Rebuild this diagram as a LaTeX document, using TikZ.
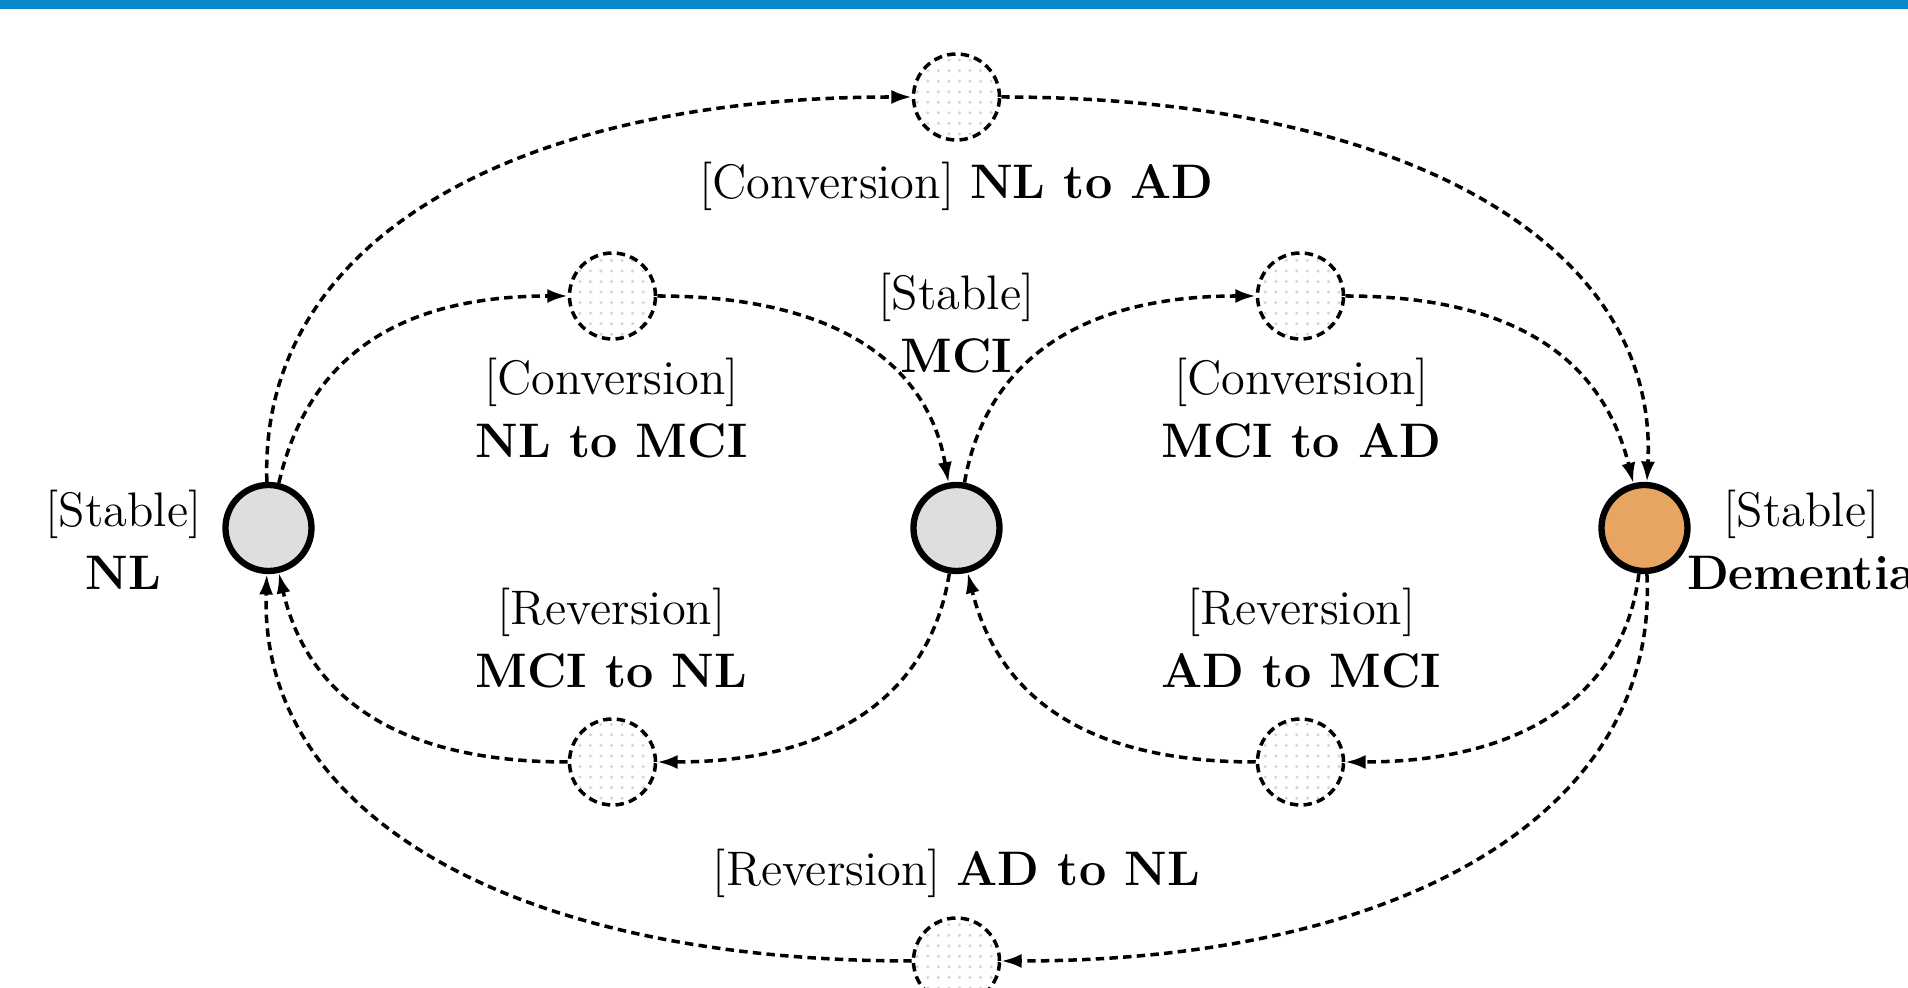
\documentclass[tikz,border=0pt]{standalone}
\usepackage{fontspec}
\usetikzlibrary{arrows.meta, positioning, patterns}
\definecolor{nlgray}{RGB}{222,222,222}
\definecolor{adorange}{RGB}{232,165,98}
\definecolor{barblue}{RGB}{10,136,204}

\begin{document}
\begin{tikzpicture}[
  state/.style={circle, draw, line width=1.8pt, minimum size=0.86cm, inner sep=0pt},
  trans/.style={circle, draw, line width=1pt, dash pattern=on 2.4pt off 1.5pt, minimum size=0.86cm, inner sep=0pt, pattern=dots, pattern color=black!16},
  lbl/.style={align=center, inner sep=0pt, font=\fontsize{13.8}{18}\selectfont},
  flow/.style={line width=1pt, dash pattern=on 2.4pt off 1.5pt, -{Latex[length=5.8pt,width=4pt]}}
]
  \useasboundingbox (-9.565,-4.60) rectangle (9.515,5.28);
  \fill[barblue] (-9.565,5.19) rectangle (9.515,5.28);

  % states
  \node[state, fill=nlgray] (nl) at (-6.88, 0) {};
  \node[state, fill=nlgray] (mci) at (0, 0) {};
  \node[state, fill=adorange] (ad) at (6.88, 0) {};

  % transitions
  \node[trans] (tNLAD) at (0, 4.31) {};
  \node[trans] (tNLMCI) at (-3.44, 2.32) {};
  \node[trans] (tMCIAD) at (3.44, 2.32) {};
  \node[trans] (tMCINL) at (-3.44, -2.34) {};
  \node[trans] (tADMCI) at (3.44, -2.34) {};
  \node[trans] (tADNL) at (0, -4.33) {};

  % labels (base = last line)
  \node[lbl, anchor=base] (lNL) at (-8.33, -0.62) {[Stable]\\\textbf{NL}};
  \node[lbl, anchor=base] (lMCI) at (0, 1.55) {[Stable]\\\textbf{MCI}};
  \node[lbl, anchor=base] (lAD) at (8.45, -0.62) {[Stable]\\\textbf{Dementia}};
  \node[lbl, anchor=base] (lNLAD) at (0, 3.29) {[Conversion] \textbf{NL to AD}};
  \node[lbl, anchor=base] (lNLMCI) at (-3.45, 0.70) {[Conversion]\\\textbf{NL to MCI}};
  \node[lbl, anchor=base] (lMCIAD) at (3.45, 0.70) {[Conversion]\\\textbf{MCI to AD}};
  \node[lbl, anchor=base] (lMCINL) at (-3.45, -1.60) {[Reversion]\\\textbf{MCI to NL}};
  \node[lbl, anchor=base] (lADMCI) at (3.45, -1.60) {[Reversion]\\\textbf{AD to MCI}};
  \node[lbl, anchor=base] (lADNL) at (0, -3.58) {[Reversion] \textbf{AD to NL}};

  % conversions
  \draw[flow] (nl) to[out=92, in=180, out distance=2.4cm, in distance=4cm] (tNLAD);
  \draw[flow] (tNLAD) to[out=0, in=87, out distance=4cm, in distance=2.4cm] (ad);
  \draw[flow] (nl) to[out=77, in=180, out distance=1.2cm, in distance=1.8cm] (tNLMCI);
  \draw[flow] (tNLMCI) to[out=0, in=100, out distance=1.8cm, in distance=1.2cm] (mci);
  \draw[flow] (mci) to[out=80, in=180, out distance=1.2cm, in distance=1.8cm] (tMCIAD);
  \draw[flow] (tMCIAD) to[out=0, in=104, out distance=1.8cm, in distance=1.2cm] (ad);

  % reversions
  \draw[flow] (ad) to[out=-97, in=0, out distance=1.2cm, in distance=1.8cm] (tADMCI);
  \draw[flow] (tADMCI) to[out=180, in=-76, out distance=1.8cm, in distance=1.2cm] (mci);
  \draw[flow] (mci) to[out=-99, in=0, out distance=1.2cm, in distance=1.8cm] (tMCINL);
  \draw[flow] (tMCINL) to[out=180, in=-77, out distance=1.8cm, in distance=1.2cm] (nl);
  \draw[flow] (ad) to[out=-87, in=0, out distance=2.4cm, in distance=4cm] (tADNL);
  \draw[flow] (tADNL) to[out=180, in=-92, out distance=4cm, in distance=2.4cm] (nl);
\end{tikzpicture}
\end{document}
